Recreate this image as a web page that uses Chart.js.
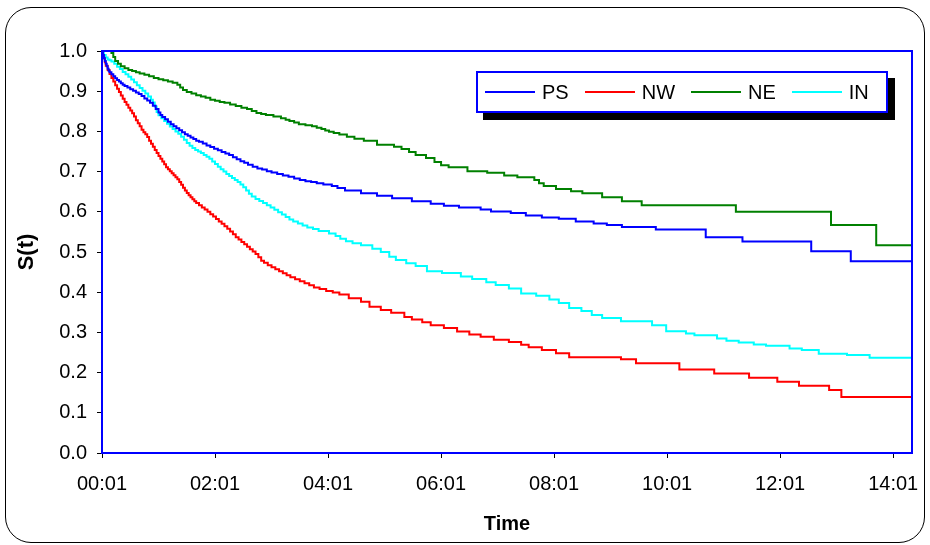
<!DOCTYPE html>
<html>
<head>
<meta charset="utf-8">
<script src="https://cdn.jsdelivr.net/npm/chart.js@4/dist/chart.umd.min.js"></script>
<style>
  html, body { margin: 0; padding: 0; background: #fff; }
  #wrap { position: relative; width: 930px; height: 545px; overflow: hidden; }
  #frame { position: absolute; left: 5px; top: 7px; width: 918px; height: 534px;
           border: 1.5px solid #000; border-radius: 26px; pointer-events: none; }
  canvas { position: absolute; left: 0; top: 0; }
  #legend { position: absolute; left: 476px; top: 71px; width: 401px; height: 38px;
            border: 2px solid #0000ff; background: #fff; box-shadow: 7px 7px 0 #000;
            display: flex; align-items: center; padding-left: 7px; box-sizing: content-box;
            font-family: "Liberation Sans", Arial, sans-serif; font-size: 20px; color: #000; }
  .item { display: flex; align-items: center; margin-right: 16px; }
  .swatch { width: 50px; height: 2px; margin-right: 7px; }
</style>
</head>
<body>
<div id="wrap">
  <canvas id="c" width="930" height="545"></canvas>
  <div id="frame"></div>
  <div id="legend"></div>
</div>
<script>
// ---- data (x = minutes since 00:01, y = survival S(t)) ----
const seriesNames = ['PS', 'NW', 'NE', 'IN'];
const seriesColors = ['#0000ff', '#ff0000', '#008000', '#00ffff'];

const psTimes = [0,1,2,3,4,5,6,7,8,10,12,14,16,18,20,22,24,27,30,33,36,39,42,45,48,51,54,57,60,62,64,67,70,73,76,79,82,85,88,91,94,97,100,103,107,111,115,119,123,127,131,135,139,143,147,151,155,160,165,170,175,180,186,192,198,204,210,216,222,228,235,244,250,258,
  275,292,308,329,349,363,379,402,413,434,450,467,485,503,522,536,552,588,641,680,753,795,860];
const psSurv  = [1.0,0.99,0.982,0.975,0.968,0.962,0.956,0.951,0.947,0.942,0.937,0.932,0.928,0.924,0.920,0.916,0.913,0.909,0.905,0.901,0.897,0.893,0.888,0.882,0.877,0.871,0.864,0.856,0.847,0.841,0.836,0.830,0.824,0.818,0.813,0.808,0.803,0.798,0.793,0.789,0.785,0.781,0.777,0.774,0.770,0.765,0.761,0.757,0.753,0.749,0.745,0.741,0.736,0.731,0.726,0.722,0.717,0.712,0.708,0.705,0.701,0.698,0.694,0.690,0.687,0.683,0.679,0.676,0.674,0.671,0.668,0.664,0.659,0.653,
  0.646,0.640,0.634,0.626,0.620,0.615,0.611,0.606,0.601,0.597,0.591,0.586,0.583,0.576,0.571,0.567,0.562,0.556,0.537,0.526,0.502,0.477,0.477];

const nwTimes = [0,1,2,3,4,6,8,10,12,14,16,18,20,22,24,26,28,30,32,34,36,38,40,42,44,46,48,50,52,54,56,58,60,62,64,66,68,70,72,74,76,78,80,82,84,86,88,90,92,94,96,98,100,103,106,109,112,115,118,121,124,127,130,133,136,139,142,145,148,151,154,157,160,163,166,169,172,176,180,184,188,192,196,200,205,210,215,220,225,231,238,245,252,
  262,275,284,296,307,321,329,340,349,363,377,390,402,416,432,445,453,467,482,496,551,567,613,650,687,717,740,772,785,860];
const nwSurv  = [1.0,0.99,0.982,0.972,0.963,0.953,0.943,0.933,0.924,0.915,0.906,0.898,0.889,0.881,0.873,0.866,0.859,0.852,0.845,0.837,0.828,0.820,0.813,0.804,0.798,0.793,0.786,0.777,0.769,0.762,0.754,0.746,0.739,0.732,0.725,0.718,0.711,0.706,0.701,0.696,0.691,0.686,0.681,0.674,0.667,0.660,0.653,0.647,0.641,0.636,0.631,0.626,0.622,0.616,0.611,0.606,0.600,0.594,0.588,0.582,0.576,0.570,0.564,0.558,0.551,0.544,0.537,0.531,0.525,0.519,0.513,0.507,0.501,0.495,0.487,0.478,0.473,0.467,0.462,0.457,0.452,0.447,0.442,0.437,0.432,0.427,0.422,0.417,0.412,0.408,0.403,0.399,0.394,
  0.385,0.376,0.364,0.356,0.349,0.338,0.332,0.325,0.318,0.311,0.302,0.295,0.289,0.282,0.276,0.269,0.263,0.256,0.248,0.238,0.233,0.223,0.208,0.198,0.187,0.177,0.167,0.157,0.139,0.139];

const neTimes = [0,10,12,14,17,20,24,28,32,36,40,45,50,55,60,65,70,75,80,83,86,90,95,100,105,110,115,120,125,130,136,142,148,154,159,164,169,174,182,190,195,199,204,209,216,223,228,233,237,241,246,252,
  260,268,278,292,310,318,326,333,344,353,360,368,388,409,427,441,459,464,469,482,498,510,531,552,573,673,774,822,860];
const neSurv  = [1.0,0.995,0.985,0.975,0.968,0.962,0.957,0.953,0.950,0.947,0.944,0.941,0.937,0.933,0.930,0.927,0.924,0.921,0.916,0.909,0.903,0.898,0.894,0.890,0.887,0.884,0.879,0.876,0.873,0.871,0.867,0.863,0.859,0.856,0.851,0.846,0.843,0.841,0.837,0.833,0.829,0.826,0.822,0.818,0.815,0.813,0.809,0.806,0.802,0.799,0.796,0.792,
  0.787,0.782,0.777,0.767,0.762,0.756,0.749,0.741,0.734,0.724,0.716,0.711,0.701,0.697,0.690,0.686,0.679,0.671,0.664,0.657,0.651,0.646,0.636,0.626,0.616,0.600,0.567,0.517,0.517];

const inTimes = [0,1,2,4,6,8,10,13,16,19,22,25,28,31,34,37,40,43,46,49,52,54,56,58,60,63,66,69,72,75,78,81,84,87,90,93,96,99,102,105,108,111,114,117,120,123,126,129,132,135,138,141,144,147,150,153,156,159,163,167,171,175,179,183,187,191,195,199,203,208,213,218,224,230,241,248,253,259,266,
  275,287,296,305,312,323,333,345,361,381,393,408,418,432,445,461,475,485,496,509,520,531,551,584,599,620,629,653,663,676,692,705,730,743,761,791,815,860];
const inSurv  = [1.0,0.995,0.99,0.984,0.979,0.977,0.974,0.968,0.961,0.955,0.948,0.942,0.936,0.929,0.922,0.915,0.908,0.901,0.894,0.887,0.879,0.872,0.862,0.848,0.840,0.833,0.826,0.819,0.812,0.806,0.800,0.794,0.787,0.779,0.771,0.764,0.759,0.754,0.750,0.746,0.741,0.737,0.732,0.725,0.719,0.712,0.706,0.700,0.694,0.689,0.684,0.679,0.674,0.668,0.661,0.653,0.645,0.638,0.632,0.627,0.622,0.616,0.611,0.605,0.599,0.593,0.587,0.581,0.576,0.571,0.566,0.561,0.557,0.552,0.546,0.540,0.533,0.527,0.522,
  0.517,0.508,0.500,0.488,0.480,0.472,0.465,0.452,0.448,0.439,0.433,0.425,0.418,0.409,0.397,0.391,0.382,0.373,0.361,0.353,0.343,0.336,0.328,0.318,0.303,0.297,0.293,0.285,0.279,0.275,0.270,0.267,0.260,0.256,0.247,0.244,0.237,0.237];

const xTickValues = [0,120,240,360,480,600,720,840];
const xTickLabels = ['00:01','02:01','04:01','06:01','08:01','10:01','12:01','14:01'];
const xMax = 860;
const yTickValues = [0,0.1,0.2,0.3,0.4,0.5,0.6,0.7,0.8,0.9,1.0];

// ---- build ----
const allTimes = [psTimes, nwTimes, neTimes, inTimes];
const allSurv = [psSurv, nwSurv, neSurv, inSurv];
const datasets = seriesNames.map((name, i) => ({
  label: name,
  data: allTimes[i].map((t, j) => ({ x: t, y: allSurv[i][j] })),
  borderColor: seriesColors[i],
  backgroundColor: seriesColors[i],
  borderWidth: 2,
  pointRadius: 0,
  stepped: true,
  fill: false
}));

const FONT = '"Liberation Sans", Arial, sans-serif';

const frameBorder = {
  id: 'frameBorder',
  afterDatasetsDraw(chart) {
    const a = chart.chartArea, ctx = chart.ctx;
    ctx.save();
    ctx.strokeStyle = '#0000ff';
    ctx.lineWidth = 2;
    ctx.strokeRect(a.left, a.top, a.right - a.left, a.bottom - a.top);
    ctx.restore();
  }
};

new Chart(document.getElementById('c'), {
  type: 'line',
  data: { datasets },
  plugins: [frameBorder],
  options: {
    responsive: false,
    animation: false,
    devicePixelRatio: 1,
    layout: { padding: { top: 51, right: 18, left: 0, bottom: 0 } },
    plugins: { legend: { display: false }, tooltip: { enabled: false } },
    scales: {
      x: {
        type: 'linear', min: 0, max: xMax,
        afterBuildTicks(s) { s.ticks = xTickValues.map(v => ({ value: v })); },
        afterFit(s) { s.height = 92; s.paddingLeft = 0; s.paddingRight = 0; },
        ticks: {
          color: '#000', font: { family: FONT, size: 20 }, padding: 14,
          maxRotation: 0, autoSkip: false,
          callback(v) { const k = xTickValues.indexOf(v); return k >= 0 ? xTickLabels[k] : ''; }
        },
        grid: { drawOnChartArea: false, drawTicks: true, tickLength: 5, color: '#000', lineWidth: 1 },
        border: { display: false },
        title: { display: true, text: 'Time', color: '#000',
                 font: { family: FONT, size: 20, weight: 'bold' }, padding: { top: 0, bottom: 9 } }
      },
      y: {
        type: 'linear', min: 0, max: 1,
        afterBuildTicks(s) { s.ticks = yTickValues.map(v => ({ value: v })); },
        afterFit(s) { s.width = 102; s.paddingTop = 0; s.paddingBottom = 0; },
        ticks: {
          color: '#000', font: { family: FONT, size: 20 }, padding: 10,
          callback(v) { return Number(v).toFixed(1); }
        },
        grid: { drawOnChartArea: false, drawTicks: true, tickLength: 5, color: '#000', lineWidth: 1 },
        border: { display: false },
        title: { display: true, text: 'S(t)', color: '#000',
                 font: { family: FONT, size: 22, weight: 'bold' }, padding: { top: 14, bottom: 0 } }
      }
    }
  }
});

// HTML legend built from the dataset names/colours
const lg = document.getElementById('legend');
seriesNames.forEach((n, i) => {
  const it = document.createElement('div'); it.className = 'item';
  const sw = document.createElement('span'); sw.className = 'swatch'; sw.style.background = seriesColors[i];
  const tx = document.createElement('span'); tx.textContent = n;
  it.appendChild(sw); it.appendChild(tx); lg.appendChild(it);
});
</script>
</body>
</html>
